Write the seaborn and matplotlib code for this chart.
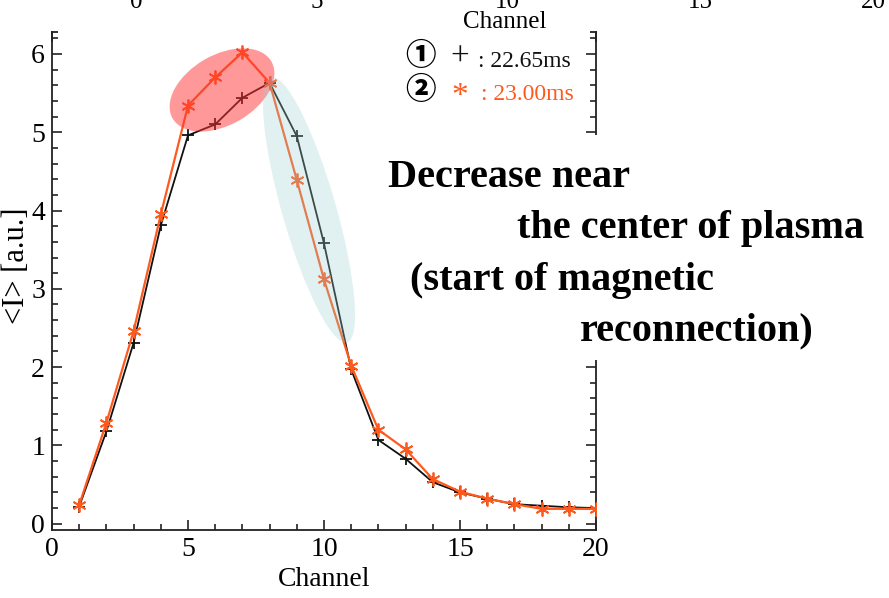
import matplotlib
matplotlib.use("Agg")
import matplotlib.pyplot as plt
import seaborn as sns
import numpy as np
from matplotlib.patches import Ellipse, Rectangle
from matplotlib.transforms import ScaledTranslation
from matplotlib.ticker import MultipleLocator

# ---- data ----
channels = list(range(1, 21))
i_2265 = [0.22, 1.18, 2.31, 3.81, 4.96, 5.10, 5.44, 5.63, 4.95, 3.58,
          1.97, 1.07, 0.83, 0.53, 0.40, 0.32, 0.25, 0.23, 0.21, 0.20]
i_2300 = [0.24, 1.29, 2.46, 3.95, 5.34, 5.70, 6.02, 5.63, 4.39, 3.12,
          2.02, 1.20, 0.95, 0.57, 0.41, 0.32, 0.25, 0.19, 0.19, 0.19]
legend_labels = ["22.65ms", "23.00ms"]
top_ticks = ["0", "5", "10", "15", "20"]
note_lines = ["Decrease near", "the center of plasma", "(start of magnetic", "reconnection)"]

sns.set_style("ticks")
plt.rcParams["font.family"] = ["Liberation Serif", "DejaVu Sans"]
plt.rcParams["text.color"] = "black"
plt.rcParams["axes.labelcolor"] = "black"
plt.rcParams["xtick.color"] = "black"
plt.rcParams["ytick.color"] = "black"

W, H = 889, 598
fig = plt.figure(figsize=(W / 100, H / 100), dpi=100)
ax = fig.add_axes([52 / W, 68 / H, (596 - 52) / W, (566 - 68) / H])

black = "#111111"
orange = "#ff5a1e"
sns.lineplot(x=channels, y=i_2265, ax=ax, color=black, lw=1.3, marker="+",
             markersize=9, markeredgewidth=1.3, markeredgecolor=black, zorder=3)
sns.lineplot(x=channels, y=i_2300, ax=ax, color=orange, lw=1.6, marker=(6, 2, 0),
             markersize=10, markeredgewidth=1.3, markeredgecolor=orange, zorder=3)

ax.set_xlim(0, 20)
ax.set_ylim(-0.08, 6.28)
ax.xaxis.set_major_locator(MultipleLocator(5))
ax.xaxis.set_minor_locator(MultipleLocator(1))
ax.yaxis.set_major_locator(MultipleLocator(1))
ax.yaxis.set_minor_locator(MultipleLocator(0.2))
ax.tick_params(which="both", direction="in", top=True, right=True, width=1.2, color="#222222")
ax.tick_params(which="major", length=7, labelsize=20, pad=5)
ax.tick_params(which="minor", length=4)
for s in ax.spines.values():
    s.set_linewidth(1.3)
    s.set_color("#222222")
ax.set_xlabel("Channel", fontsize=20, labelpad=4)
ax.set_ylabel("<I> [a.u.]", fontsize=22, va="center")
ax.yaxis.set_label_coords((17 - 52) / 544, 0.53)

# highlight ellipses (sizes in inches around data-coordinate centres)
def ell(xc, yc, w_px, h_px, ang, color, alpha):
    tr = fig.dpi_scale_trans + ScaledTranslation(xc, yc, ax.transData)
    e = Ellipse((0, 0), w_px / 100, h_px / 100, angle=ang, transform=tr,
                facecolor=color, edgecolor="none", alpha=alpha, zorder=5)
    ax.add_patch(e)

ell(6.25, 5.54, 114, 70, 30, (1.0, 0.2, 0.2), 0.5)
ell(9.45, 4.01, 276, 54, -74, (0.62, 0.82, 0.82), 0.3)

# white covers (top spine and annotation box)
fig.patches.append(Rectangle((58 / W, 1 - 43 / H), (590 - 58) / W, 17 / H,
                             transform=fig.transFigure, facecolor="white",
                             edgecolor="none", zorder=10))
fig.patches.append(Rectangle((367 / W, 1 - 360 / H), (889 - 367) / W, (360 - 135) / H,
                             transform=fig.transFigure, facecolor="white",
                             edgecolor="none", zorder=10))

# cut-off labels of the panel above
for lab, xp in zip(top_ticks, [136, 317, 507, 700, 873]):
    fig.text(xp / W, 1 - 8 / H, lab, ha="center", va="baseline", fontsize=18, zorder=11)
fig.text(505 / W, 1 - 28 / H, "Channel", ha="center", va="baseline", fontsize=18, zorder=11)

# legend made of text
for sym, yp in zip(["\u2460", "\u2461"], [56, 89]):
    fig.text(420 / W, 1 - yp / H, sym, fontsize=22, fontweight="heavy",
             family=["Noto Sans CJK JP", "DejaVu Sans"], va="center", ha="center", zorder=11)
fig.text(460 / W, 1 - 57 / H, "+", fontsize=24, color=black, ha="center", va="center", zorder=11)
fig.text(460 / W, 1 - 97 / H, "*", fontsize=24, color=orange, ha="center", va="center", zorder=11)
fig.text(478 / W, 1 - 67 / H, ": " + legend_labels[0], fontsize=17, color=black,
         va="baseline", ha="left", zorder=11)
fig.text(481 / W, 1 - 100 / H, ": " + legend_labels[1], fontsize=17, color=orange,
         va="baseline", ha="left", zorder=11)

# annotation text
for txt, xp, yp in zip(note_lines, [388, 517, 410, 580], [187, 238, 290, 340]):
    fig.text(xp / W, 1 - yp / H, txt, fontsize=29, fontweight="bold",
             va="baseline", ha="left", zorder=11)

fig.savefig("out.png", dpi=100, facecolor="white")
